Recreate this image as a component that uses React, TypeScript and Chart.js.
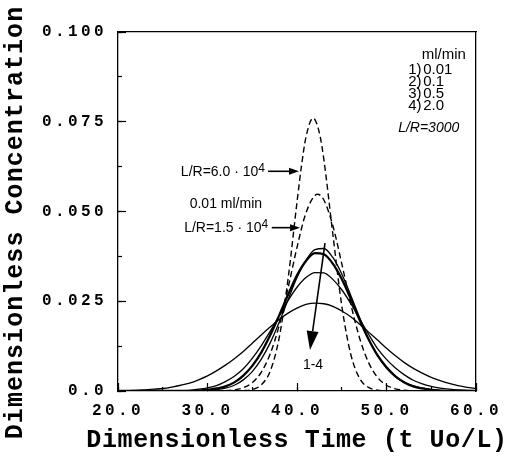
import React, { useEffect, useRef } from "react";
import { Chart, registerables } from "chart.js";

Chart.register(...registerables);

// ---------- data ----------
const timeSolid = [
  20, 21, 22, 23, 24, 25, 26, 27, 28, 29, 30, 31, 32, 33, 34, 35, 36, 37, 38, 39, 40,
  41, 42, 43, 44, 45, 46, 47, 48, 49, 50, 51, 52, 53, 54, 55, 56, 57, 58, 59, 60,
];
// 1) 0.01 ml/min
const conc1 = [
  0, 0, 0, 0, 0, 0, 0, 0, 0, 0.0001, 0.0002, 0.0004, 0.0008, 0.0016, 0.0031, 0.0054, 0.0088,
  0.0134, 0.0191, 0.0254, 0.0316, 0.0364, 0.0394, 0.0397, 0.0372, 0.0326, 0.0267, 0.0204,
  0.0145, 0.01, 0.0064, 0.004, 0.0024, 0.0014, 0.0008, 0.0004, 0.0002, 0.0001, 0, 0, 0,
];
// 2) 0.1 ml/min
const conc2 = [
  0, 0, 0, 0, 0, 0, 0, 0, 0, 0.0001, 0.0003, 0.0007, 0.0013, 0.0024, 0.0043, 0.007, 0.0107,
  0.0155, 0.021, 0.0268, 0.0322, 0.0362, 0.0384, 0.0381, 0.0355, 0.0312, 0.0257, 0.0198,
  0.0144, 0.0099, 0.0066, 0.0041, 0.0024, 0.0013, 0.0007, 0.0003, 0.0001, 0, 0, 0, 0,
];
// 3) 0.5 ml/min
const conc3 = [
  0, 0, 0, 0, 0, 0, 0.0001, 0.0001, 0.0002, 0.0005, 0.0009, 0.0015, 0.0026, 0.0041, 0.0062,
  0.0091, 0.0126, 0.0166, 0.0209, 0.0252, 0.0289, 0.0316, 0.033, 0.0329, 0.0311, 0.0282,
  0.0244, 0.0201, 0.0158, 0.0118, 0.0088, 0.0064, 0.0045, 0.003, 0.002, 0.0013, 0.0008,
  0.0005, 0.0003, 0.0002, 0.0001,
];
// 4) 2.0 ml/min
const conc4 = [
  0.0001, 0.0001, 0.0002, 0.0003, 0.0005, 0.0007, 0.0011, 0.0016, 0.0022, 0.0031, 0.0042,
  0.0056, 0.0072, 0.009, 0.011, 0.0133, 0.0156, 0.0178, 0.0199, 0.0217, 0.0231, 0.0241,
  0.0245, 0.0243, 0.0236, 0.0223, 0.0207, 0.0186, 0.0164, 0.0142, 0.0119, 0.0098, 0.0079,
  0.0063, 0.005, 0.0038, 0.0029, 0.0021, 0.0015, 0.001, 0.0007,
];
// L/R = 6.0e4 (dashed)
const timeDash60 = [33, 34, 35, 36, 37, 38, 39, 40, 40.5, 41, 41.8, 42.5, 43, 44, 45, 46, 47, 48, 49, 50];
const concDash60 = [
  0, 0.0001, 0.0004, 0.0017, 0.0055, 0.0147, 0.0312, 0.0526, 0.0627, 0.0707, 0.076, 0.0719,
  0.0645, 0.0438, 0.0238, 0.0103, 0.0035, 0.001, 0.0002, 0,
];
// L/R = 1.5e4 (dashed)
const timeDash15 = [32, 33, 34, 35, 36, 37, 38, 39, 40, 41, 42.3, 43, 44, 45, 46, 47, 48, 49, 50, 51, 52, 53];
const concDash15 = [
  0.0001, 0.0003, 0.0009, 0.0023, 0.0052, 0.0103, 0.0182, 0.0287, 0.04, 0.0496, 0.0548, 0.0532,
  0.0461, 0.0355, 0.0243, 0.0147, 0.0079, 0.0038, 0.0016, 0.0006, 0.0002, 0,
];

const xTicks = [20, 30, 40, 50, 60];
const xTickLabels = ["20.0", "30.0", "40.0", "50.0", "60.0"];
const xMinorTicks = [20, 25, 30, 35, 40, 45, 50, 55, 60];
const yTicks = [0, 0.025, 0.05, 0.075, 0.1];
const yTickLabels = ["0.0", "0.025", "0.050", "0.075", "0.100"];
const yMinorTicks = [0, 0.0125, 0.025, 0.0375, 0.05, 0.0625, 0.075, 0.0875, 0.1];

const legendHeader = "ml/min";
const legendIds = ["1)", "2)", "3)", "4)"];
const legendRates = ["0.01", "0.1", "0.5", "2.0"];
const legendRows = [0.0894, 0.0862, 0.0827, 0.0794];
const ratioNote = "L/R=3000";

const xTitle = "Dimensionless Time (t Uo/L)";
const yTitle = "Dimensionless Concentration";

// ---------- styling ----------
const MONO = "'Liberation Mono', 'Courier New', monospace";
const SANS = "'Liberation Sans', Arial, Helvetica, sans-serif";
const TICK_SPACING = "3.4px";
const X_TITLE_SPACING = "0.6px";
const Y_TITLE_SPACING = "1.05px";

const toPts = (xs: number[], ys: number[]) => xs.map((x, i) => ({ x, y: ys[i] }));

const spacingPlugin = {
  id: "spacingPatch",
  beforeDraw(chart: any) {
    const ctx = chart.ctx;
    Object.values(chart.scales).forEach((s: any) => {
      if (s.__patched) return;
      s.__patched = true;
      const origLabels = s.drawLabels;
      const origTitle = s.drawTitle;
      s.drawLabels = function (area: any) {
        ctx.save();
        ctx.letterSpacing = TICK_SPACING;
        origLabels.call(this, area);
        ctx.restore();
      };
      s.drawTitle = function () {
        const box = { left: this.left, right: this.right, top: this.top, bottom: this.bottom };
        const horiz = this.isHorizontal();
        if (horiz) {
          this.left -= 150;
          this.right += 150;
        } else {
          this.top -= 139;
          this.bottom += 161;
        }
        ctx.save();
        ctx.letterSpacing = horiz ? X_TITLE_SPACING : Y_TITLE_SPACING;
        origTitle.call(this);
        ctx.restore();
        Object.assign(this, box);
      };
    });
  },
};

function arrow(ctx: CanvasRenderingContext2D, x1: number, y1: number, x2: number, y2: number, len: number, half: number, lw: number) {
  const a = Math.atan2(y2 - y1, x2 - x1);
  const bx = x2 - len * Math.cos(a);
  const by = y2 - len * Math.sin(a);
  ctx.lineWidth = lw;
  ctx.beginPath();
  ctx.moveTo(x1, y1);
  ctx.lineTo(bx, by);
  ctx.stroke();
  ctx.beginPath();
  ctx.moveTo(x2, y2);
  ctx.lineTo(bx + half * Math.sin(a), by - half * Math.cos(a));
  ctx.lineTo(bx - half * Math.sin(a), by + half * Math.cos(a));
  ctx.closePath();
  ctx.fill();
}

const notesPlugin = {
  id: "notes",
  afterDraw(chart: any) {
    const { ctx } = chart;
    const px = (v: number) => chart.scales.x.getPixelForValue(v);
    const py = (v: number) => chart.scales.y.getPixelForValue(v);
    ctx.save();
    ctx.fillStyle = "#000";
    ctx.strokeStyle = "#000";
    ctx.textBaseline = "middle";

    const supLabel = (main: string, sup: string, rightX: number, y: number) => {
      ctx.font = `14px ${SANS}`;
      const w1 = ctx.measureText(main).width;
      ctx.font = `12px ${SANS}`;
      const w2 = ctx.measureText(sup).width;
      const left = px(rightX) - w1 - w2;
      ctx.font = `14px ${SANS}`;
      ctx.textAlign = "left";
      ctx.fillText(main, left, py(y));
      ctx.font = `12px ${SANS}`;
      ctx.fillText(sup, left + w1, py(y) - 3);
    };

    supLabel("L/R=6.0 · 10", "4", 36.42, 0.0611);
    arrow(ctx, px(36.76), py(0.0612), px(40.22), py(0.0612), 10, 3.5, 1.6);
    ctx.font = `14px ${SANS}`;
    ctx.textAlign = "center";
    ctx.fillText("0.01 ml/min", px(32.05), py(0.0521));
    supLabel("L/R=1.5 · 10", "4", 36.79, 0.0455);
    arrow(ctx, px(37.18), py(0.0455), px(40.34), py(0.0455), 10, 3.5, 1.6);

    arrow(ctx, px(43.13), py(0.0412), px(41.45), py(0.0114), 19, 6, 1.6);
    ctx.font = `14px ${SANS}`;
    ctx.textAlign = "center";
    ctx.fillText("1-4", px(41.79), py(0.0072));

    ctx.textAlign = "left";
    ctx.font = `15px ${SANS}`;
    ctx.fillText(legendHeader, px(53.93), py(0.0936));
    legendRows.forEach((yv, i) => {
      ctx.fillText(legendIds[i], px(52.43), py(yv));
      ctx.fillText(legendRates[i], px(54.1), py(yv));
    });
    ctx.font = `italic 14px ${SANS}`;
    ctx.fillText(ratioNote, px(51.3), py(0.0733));
    ctx.restore();
  },
};

const tickFont = { family: MONO, size: 16, weight: "bold" as const };
const titleFont = { family: MONO, size: 25, weight: "bold" as const };
const axisColor = "#000";
const noPad = (s: any) => {
  s.paddingLeft = 0;
  s.paddingRight = 0;
  s.paddingTop = 0;
  s.paddingBottom = 0;
};

export default function App() {
  const ref = useRef<HTMLCanvasElement>(null);

  useEffect(() => {
    if (!ref.current) return;
    const solid = (data: number[], w: number) => ({
      data: toPts(timeSolid, data),
      borderColor: "#000",
      borderWidth: w,
      pointRadius: 0,
      fill: false,
      cubicInterpolationMode: "monotone" as const,
    });
    const dashed = (t: number[], c: number[]) => ({
      data: toPts(t, c),
      borderColor: "#000",
      borderWidth: 1.4,
      borderDash: [6, 3.5],
      pointRadius: 0,
      fill: false,
      cubicInterpolationMode: "monotone" as const,
    });

    const chart = new Chart(ref.current, {
      type: "line",
      data: {
        datasets: [
          solid(conc1, 1.3),
          solid(conc2, 2.3),
          solid(conc3, 1.3),
          solid(conc4, 1.3),
          dashed(timeDash60, concDash60),
          dashed(timeDash15, concDash15),
        ] as any,
      },
      options: {
        animation: false,
        responsive: false,
        devicePixelRatio: 1,
        layout: { padding: { left: 0, right: 32, top: 32, bottom: 0 } },
        plugins: { legend: { display: false }, tooltip: { enabled: false } },
        scales: {
          x: {
            type: "linear",
            position: "bottom",
            weight: 1,
            min: 20,
            max: 60,
            afterBuildTicks: (s: any) => {
              s.ticks = xTicks.map((v) => ({ value: v }));
            },
            afterFit: (s: any) => {
              s.height = 70;
              noPad(s);
            },
            ticks: {
              callback: (v: any) => xTickLabels[xTicks.indexOf(Number(v))],
              font: tickFont,
              color: axisColor,
              padding: 18,
              maxRotation: 0,
              autoSkip: false,
            },
            grid: { drawOnChartArea: false, drawTicks: true, tickLength: -8, tickColor: axisColor, tickWidth: 1.2 },
            border: { display: true, color: axisColor, width: 1.3 },
            title: { display: true, text: xTitle, font: titleFont, color: axisColor, padding: { top: 0, bottom: 5 } },
          },
          xMinor: {
            type: "linear",
            position: "bottom",
            weight: 0,
            min: 20,
            max: 60,
            afterBuildTicks: (s: any) => {
              s.ticks = xMinorTicks.map((v) => ({ value: v }));
            },
            afterFit: (s: any) => {
              s.height = 0;
              noPad(s);
            },
            ticks: { display: false },
            grid: { drawOnChartArea: false, drawTicks: true, tickLength: -4, tickColor: axisColor, tickWidth: 1.2 },
            border: { display: false },
          },
          xTop: {
            type: "linear",
            position: "top",
            min: 20,
            max: 60,
            afterFit: (s: any) => {
              s.height = 0;
              noPad(s);
            },
            ticks: { display: false },
            grid: { display: false },
            border: { display: true, color: axisColor, width: 1.3 },
          },
          y: {
            type: "linear",
            position: "left",
            weight: 1,
            min: 0,
            max: 0.1,
            afterBuildTicks: (s: any) => {
              s.ticks = yTicks.map((v) => ({ value: v }));
            },
            afterFit: (s: any) => {
              s.width = 118;
              noPad(s);
            },
            ticks: {
              callback: (v: any) => yTickLabels[yTicks.indexOf(Number(v))],
              font: tickFont,
              color: axisColor,
              padding: 19,
              autoSkip: false,
            },
            grid: { drawOnChartArea: false, drawTicks: true, tickLength: -8, tickColor: axisColor, tickWidth: 1.2 },
            border: { display: true, color: axisColor, width: 1.3 },
            title: { display: true, text: yTitle, font: titleFont, color: axisColor, padding: { top: 1, bottom: 0 } },
          },
          yMinor: {
            type: "linear",
            position: "left",
            weight: 0,
            min: 0,
            max: 0.1,
            afterBuildTicks: (s: any) => {
              s.ticks = yMinorTicks.map((v) => ({ value: v }));
            },
            afterFit: (s: any) => {
              s.width = 0;
              noPad(s);
            },
            ticks: { display: false },
            grid: { drawOnChartArea: false, drawTicks: true, tickLength: -4, tickColor: axisColor, tickWidth: 1.2 },
            border: { display: false },
          },
          yRight: {
            type: "linear",
            position: "right",
            min: 0,
            max: 0.1,
            afterFit: (s: any) => {
              s.width = 0;
              noPad(s);
            },
            ticks: { display: false },
            grid: { display: false },
            border: { display: true, color: axisColor, width: 1.3 },
          },
        } as any,
      },
      plugins: [spacingPlugin, notesPlugin],
    });
    return () => chart.destroy();
  }, []);

  return (
    <div style={{ position: "fixed", left: 0, top: 0, width: 508, height: 461, background: "#fff" }}>
      <canvas ref={ref} width={508} height={461} style={{ display: "block", width: 508, height: 461 }} />
    </div>
  );
}
